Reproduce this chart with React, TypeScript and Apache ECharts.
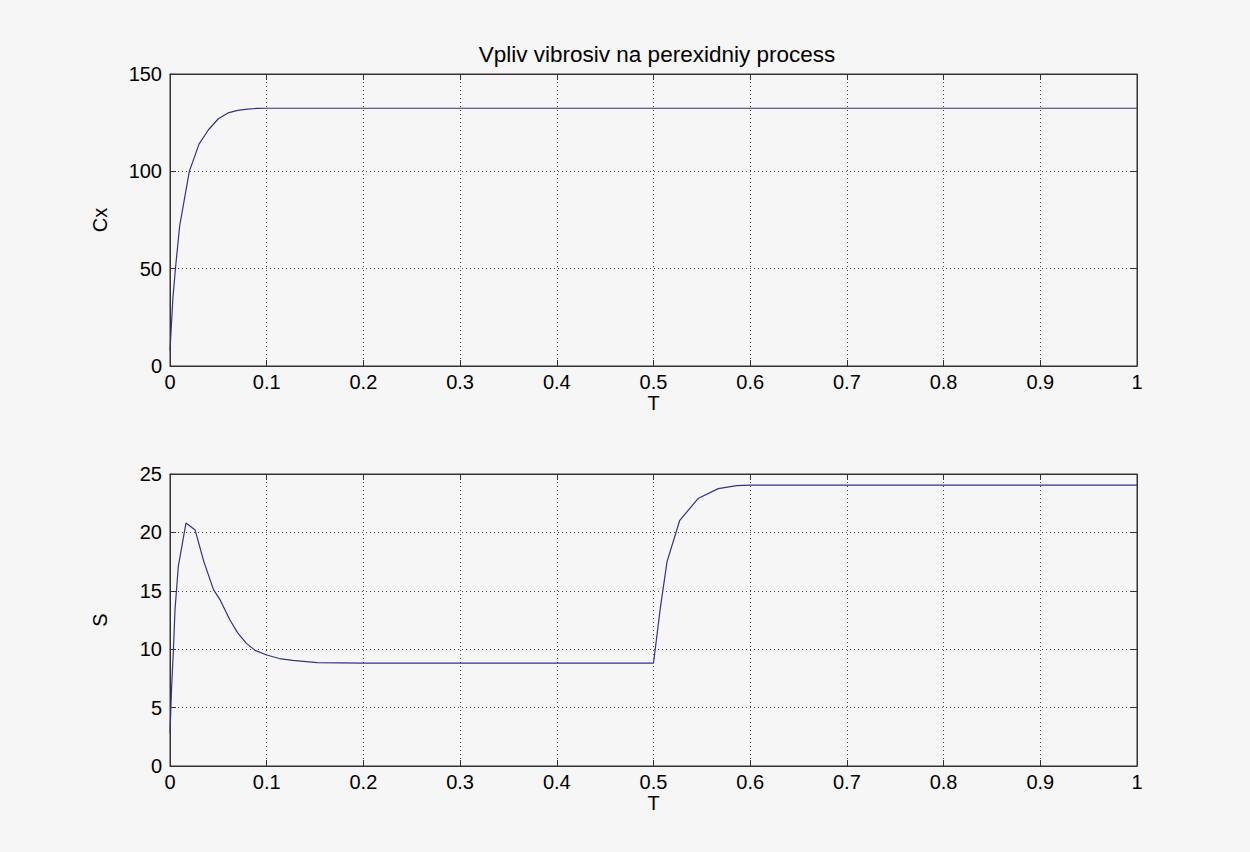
import React, { useEffect, useRef } from "react";
import * as echarts from "echarts";

const titleText = "Vpliv vibrosiv na perexidniy process";
const xTicks = [0, 0.1, 0.2, 0.3, 0.4, 0.5, 0.6, 0.7, 0.8, 0.9, 1];

const tCx = [0, 0.003, 0.006, 0.01, 0.02, 0.03, 0.04, 0.05, 0.06, 0.07, 0.08, 0.09, 0.1, 1];
const cxVals = [8, 35, 52, 72, 100, 114, 121.5, 127, 130, 131.3, 132, 132.3, 132.4, 132.4];

const tS = [0, 0.0017, 0.0034, 0.0052, 0.0086, 0.0165, 0.026, 0.035, 0.045, 0.052, 0.062, 0.07, 0.079, 0.088, 0.1, 0.113, 0.127, 0.152, 0.2, 0.4, 0.5, 0.507, 0.514, 0.527, 0.546, 0.567, 0.586, 0.6, 1];
const sVals = [2.8, 6.8, 9.7, 13.4, 17.1, 20.8, 20.2, 17.5, 15.1, 14.2, 12.5, 11.4, 10.5, 9.9, 9.5, 9.2, 9.05, 8.85, 8.8, 8.8, 8.8, 13.5, 17.5, 21.0, 22.9, 23.75, 24.0, 24.05, 24.05];

const font = "Liberation Sans, Arial, sans-serif";
const bg = "#f6f6f6";
const fs = 20;

export default function App() {
  const ref = useRef<HTMLDivElement>(null);
  useEffect(() => {
    if (!ref.current) return;
    const chart = echarts.init(ref.current, null, { renderer: "svg" });
    const grids = [
      { left: 170, top: 74, width: 967, height: 292 },
      { left: 170, top: 474, width: 967, height: 292 },
    ];
    const mkX = (gi: number, pos: "bottom" | "top", main: boolean) => ({
      type: "value",
      gridIndex: gi,
      position: pos,
      min: 0,
      max: 1,
      interval: 0.1,
      name: main ? "T" : "",
      nameLocation: "middle",
      nameGap: 27,
      nameTextStyle: { color: "#000", fontSize: fs, fontFamily: font },
      axisLine: { show: true, onZero: false, lineStyle: { color: "#333", width: 1 } },
      axisTick: { show: true, inside: true, length: 6, lineStyle: { color: "#333" } },
      axisLabel: {
        show: main,
        color: "#000",
        fontSize: fs,
        fontFamily: font,
        margin: 6,
        formatter: (v: number) => String(Math.round(v * 10) / 10),
      },
      splitLine: main
        ? { show: true, lineStyle: { color: "#444", type: [1, 3], width: 1 } }
        : { show: false },
    });
    const mkY = (gi: number, pos: "left" | "right", main: boolean, max: number, interval: number, name: string) => ({
      type: "value",
      gridIndex: gi,
      position: pos,
      min: 0,
      max,
      interval,
      name: main ? name : "",
      nameLocation: "middle",
      nameGap: 60,
      nameRotate: 90,
      nameTextStyle: { color: "#000", fontSize: fs, fontFamily: font },
      axisLine: { show: true, onZero: false, lineStyle: { color: "#333", width: 1 } },
      axisTick: { show: true, inside: true, length: 6, lineStyle: { color: "#333" } },
      axisLabel: { show: main, color: "#000", fontSize: fs, fontFamily: font, margin: 8 },
      splitLine: main
        ? { show: true, lineStyle: { color: "#444", type: [1, 3], width: 1 } }
        : { show: false },
    });
    chart.setOption({
      animation: false,
      backgroundColor: bg,
      title: {
        text: titleText,
        left: 652,
        top: 38,
        textAlign: "center",
        textStyle: { color: "#000", fontSize: 22.5, fontWeight: "normal", fontFamily: font },
      },
      grid: grids.map((g) => ({ ...g, show: true, backgroundColor: bg, borderColor: "#333", borderWidth: 1 })),
      xAxis: [mkX(0, "bottom", true), mkX(0, "top", false), mkX(1, "bottom", true), mkX(1, "top", false)],
      yAxis: [
        mkY(0, "left", true, 150, 50, "Cx"),
        mkY(0, "right", false, 150, 50, ""),
        mkY(1, "left", true, 25, 5, "S"),
        mkY(1, "right", false, 25, 5, ""),
      ],
      series: [
        {
          type: "line",
          xAxisIndex: 0,
          yAxisIndex: 0,
          data: tCx.map((t, i) => [t, cxVals[i]]),
          showSymbol: false,
          lineStyle: { color: "#32328c", width: 1.2 },
        },
        {
          type: "line",
          xAxisIndex: 2,
          yAxisIndex: 2,
          data: tS.map((t, i) => [t, sVals[i]]),
          showSymbol: false,
          lineStyle: { color: "#32328c", width: 1.2 },
        },
      ],
    });
    return () => chart.dispose();
  }, []);
  return (
    <div
      ref={ref}
      style={{ position: "fixed", left: 0, top: 0, width: 1250, height: 852, background: bg }}
    />
  );
}
